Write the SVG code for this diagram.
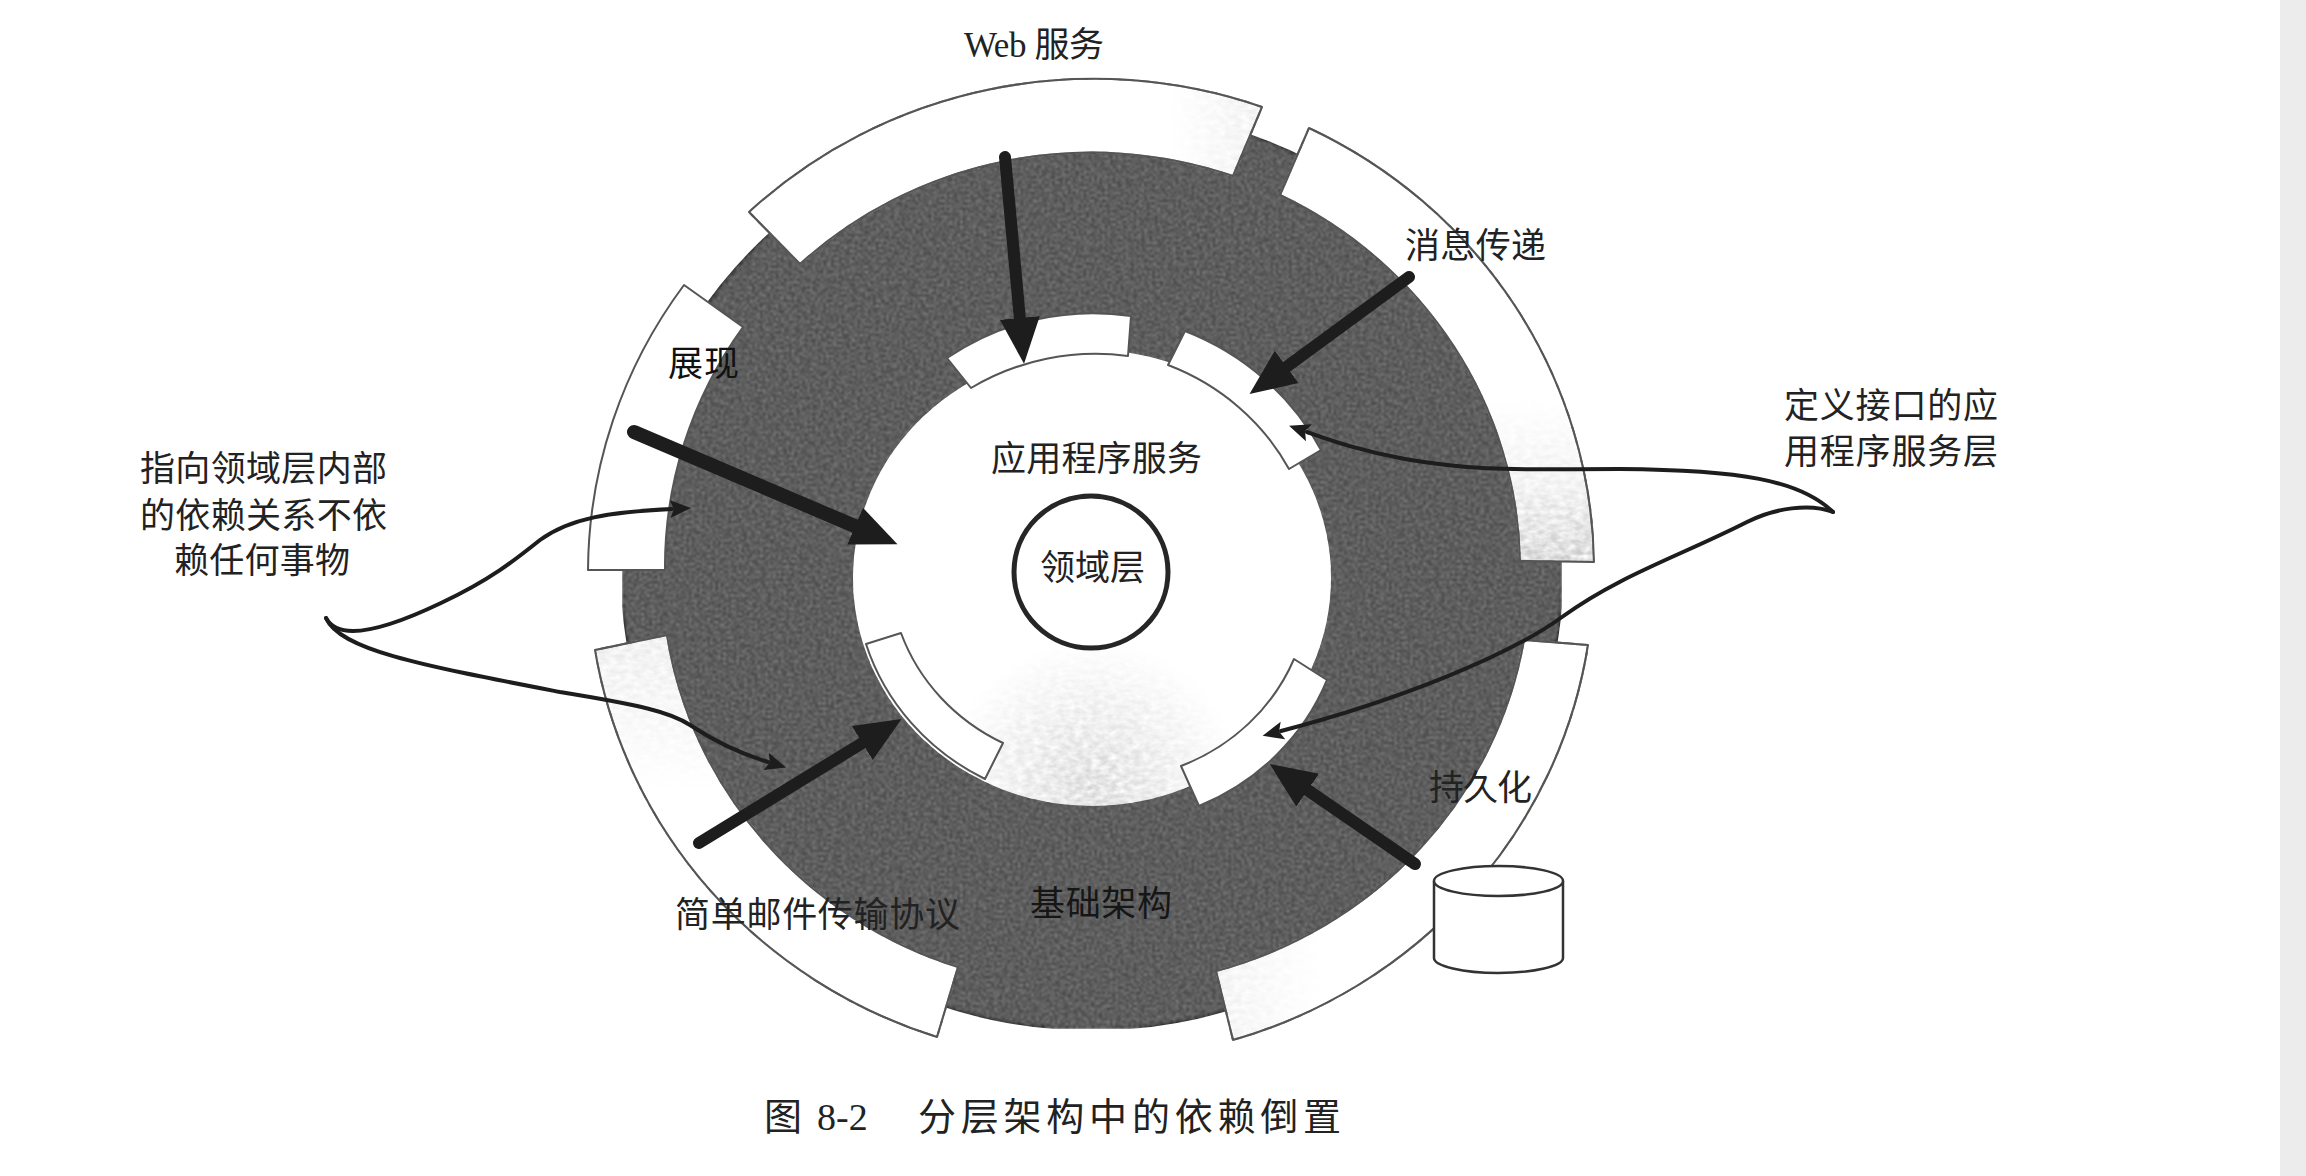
<svg xmlns="http://www.w3.org/2000/svg" width="2306" height="1176" viewBox="0 0 2306 1176">
<style>
text{font-family:"Liberation Serif","Noto Sans CJK SC",serif;font-size:35px;fill:#222}
.seg{fill:#fff;stroke:#555;stroke-width:2;stroke-linejoin:round}
.thick{fill:none;stroke:#1d1d1d;stroke-linecap:round}
.thin{fill:none;stroke:#1d1d1d;stroke-width:4;stroke-linecap:round}
</style>
<defs>
<filter id="grain" x="0" y="0" width="100%" height="100%" color-interpolation-filters="sRGB">
<feTurbulence type="fractalNoise" baseFrequency="0.38" numOctaves="2" seed="4" result="n"/>
<feColorMatrix in="n" type="matrix" values="0 0 0.75 0 -0.23 0 0 0.75 0 -0.23 0 0 0.75 0 -0.23 0 0 0 0 1" result="g"/>
<feBlend in="SourceGraphic" in2="g" mode="screen" result="b"/>
<feGaussianBlur in="b" stdDeviation="0.8" result="s"/>
<feComposite in="s" in2="SourceAlpha" operator="in"/>
</filter>
<filter id="mottle" x="0" y="0" width="100%" height="100%" color-interpolation-filters="sRGB">
<feTurbulence type="fractalNoise" baseFrequency="0.12 0.2" numOctaves="2" seed="9" result="n"/>
<feColorMatrix in="n" type="matrix" values="0 0 1.6 0 -0.4 0 0 1.6 0 -0.4 0 0 1.6 0 -0.4 0 0 0 0 1" result="g"/>
<feBlend in="SourceGraphic" in2="g" mode="screen" result="b"/>
<feComposite in="b" in2="SourceAlpha" operator="in"/>
</filter>
<radialGradient id="coreShade" gradientUnits="userSpaceOnUse" cx="1092" cy="790" r="150">
<stop offset="0" stop-color="#d2d2d2"/><stop offset="0.65" stop-color="#efefef"/><stop offset="1" stop-color="#fff"/>
</radialGradient>
<linearGradient id="msgShade" gradientUnits="userSpaceOnUse" x1="0" y1="400" x2="0" y2="562">
<stop offset="0" stop-color="#fff"/><stop offset="0.5" stop-color="#eee"/><stop offset="1" stop-color="#c8c8c8"/>
</linearGradient>
<linearGradient id="webShade" gradientUnits="userSpaceOnUse" x1="1170" y1="0" x2="1262" y2="0">
<stop offset="0" stop-color="#fff"/><stop offset="1" stop-color="#ececec"/>
</linearGradient>
<linearGradient id="smtpShade" gradientUnits="userSpaceOnUse" x1="0" y1="640" x2="0" y2="790">
<stop offset="0" stop-color="#e9e9e9"/><stop offset="1" stop-color="#fff"/>
</linearGradient>
<linearGradient id="persistShade" gradientUnits="userSpaceOnUse" x1="1225" y1="0" x2="1320" y2="0">
<stop offset="0" stop-color="#f0f0f0"/><stop offset="1" stop-color="#fff"/>
</linearGradient>
<marker id="headBig" markerUnits="userSpaceOnUse" markerWidth="48" markerHeight="44" refX="2" refY="22" orient="auto" viewBox="0 0 48 44">
<path d="M0 2L46 22L0 42Z" fill="#1d1d1d"/>
</marker>
<marker id="headSmall" markerUnits="userSpaceOnUse" markerWidth="22" markerHeight="20" refX="2" refY="10" orient="auto" viewBox="0 0 22 20">
<path d="M0 1L21 10L0 19L4 10Z" fill="#1d1d1d"/>
</marker>
</defs>
<rect width="2306" height="1176" fill="#fff"/>
<rect id="page-edge" x="2280" y="0" width="26" height="1176" fill="#ececec"/>

<g id="infrastructure">
<ellipse cx="1092" cy="569" rx="470" ry="460" fill="#424242" stroke="#2a2a2a" stroke-width="3" filter="url(#grain)"/>
<text x="1030" y="916" textLength="142" style="fill:#161616">基础架构</text>
</g>
<g id="application-services">
<ellipse cx="1092" cy="578" rx="239" ry="228" fill="#fff"/>
<ellipse cx="1092" cy="578" rx="239" ry="228" fill="url(#coreShade)" filter="url(#mottle)"/>
<text x="991" y="471" textLength="211">应用程序服务</text>
</g>
<g id="domain-layer">
<ellipse cx="1091" cy="572" rx="77" ry="76" fill="#fff" stroke="#262626" stroke-width="5"/>
<text x="1040" y="580" textLength="105">领域层</text>
</g>

<g id="web-services">
<path class="seg" style="fill:url(#webShade)" filter="url(#mottle)" d="M749 212A503 490 0 0 1 1262 107L1233 176A428 416 0 0 0 800 264Z"/>
<path class="seg" style="fill:none" d="M749 212A503 490 0 0 1 1262 107L1233 176A428 416 0 0 0 800 264Z"/>
<text x="964" y="57" textLength="140">Web 服务</text>
</g>
<g id="messaging">
<path class="seg" style="fill:url(#msgShade)" filter="url(#mottle)" d="M1309 128A503 490 0 0 1 1594 562L1520 561A428 416 0 0 0 1280 195Z"/>
<path class="seg" style="fill:none" d="M1309 128A503 490 0 0 1 1594 562L1520 561A428 416 0 0 0 1280 195Z"/>
</g>
<g id="presentation">
<path class="seg" d="M588 570A503 490 0 0 1 684 285L743 327A428 416 0 0 0 665 570Z"/>
<text x="668" y="376" textLength="71" style="fill:#111">展现</text>
</g>
<g id="persistence">
<path class="seg" style="fill:url(#persistShade)" filter="url(#mottle)" d="M1588 645A503 490 0 0 1 1233 1040L1216 971A428 416 0 0 0 1524 640Z"/>
<path class="seg" style="fill:none" d="M1588 645A503 490 0 0 1 1233 1040L1216 971A428 416 0 0 0 1524 640Z"/>
</g>
<g id="smtp">
<path class="seg" style="fill:url(#smtpShade)" filter="url(#mottle)" d="M937 1037A503 490 0 0 1 595 650L667 635A428 416 0 0 0 958 967Z"/>
<path class="seg" style="fill:none" d="M937 1037A503 490 0 0 1 595 650L667 635A428 416 0 0 0 958 967Z"/>
</g>

<g id="app-port-web"><path class="seg" d="M947 358A260 260 0 0 1 1131 316L1128 356A235 225 0 0 0 971 388Z"/></g>
<g id="app-port-messaging"><path class="seg" d="M1185 331A265 255 0 0 1 1321 450L1289 469A235 225 0 0 0 1168 365Z"/></g>
<g id="app-port-smtp"><path class="seg" d="M985 779A239 228 0 0 1 866 644L901 633A205 195 0 0 0 1003 743Z"/></g>
<g id="app-port-persistence"><path class="seg" d="M1294 659L1327 680A239 228 0 0 1 1199 806L1181 766A205 195 0 0 0 1294 659Z"/></g>

<g id="database">
<path d="M1434 881V958C1434 966 1463 973 1498 973C1534 973 1563 966 1563 958V881" fill="#fff" stroke="#333" stroke-width="2.5"/>
<ellipse cx="1498.500" cy="881" rx="64.500" ry="15" fill="#fff" stroke="#333" stroke-width="2.500"/>
</g>

<g id="connectors">
<path class="thick" stroke-width="12" marker-end="url(#headBig)" d="M1005 157L1020 320"/>
<path class="thick" stroke-width="12" marker-end="url(#headBig)" d="M1409 277L1285 368"/>
<path class="thick" stroke-width="14" marker-end="url(#headBig)" d="M634 432L857 527"/>
<path class="thick" stroke-width="12" marker-end="url(#headBig)" d="M699 843L864 742"/>
<path class="thick" stroke-width="12" marker-end="url(#headBig)" d="M1415 864L1306 789"/>
<path class="thin" marker-end="url(#headSmall)" d="M1833 512C1800 480 1740 470 1620 469C1520 469 1480 472 1405 459C1360 451 1330 440 1307 432"/>
<path class="thin" marker-end="url(#headSmall)" d="M1833 512C1810 503 1775 508 1747 522C1680 556 1620 575 1562 617C1510 655 1400 700 1281 731"/>
<path class="thin" marker-end="url(#headSmall)" d="M326 618C340 645 395 625 441 603C490 580 515 560 540 540C570 518 610 512 672 509"/>
<path class="thin" marker-end="url(#headSmall)" d="M326 618C340 650 420 665 560 692C640 705 670 712 690 725C720 745 745 755 768 762"/>
</g>

<g id="labels">
<text x="1405" y="258" textLength="141">消息传递</text>
<text x="1429" y="800" textLength="103">持久化</text>
<text x="675" y="927" textLength="285">简单邮件传输协议</text>
<text x="1784" y="418" textLength="214">定义接口的应</text>
<text x="1784" y="464" textLength="214">用程序服务层</text>
<text x="140" y="481" textLength="247">指向领域层内部</text>
<text x="140" y="528" textLength="247">的依赖关系不依</text>
<text x="174" y="573" textLength="176">赖任何事物</text>
<text id="caption" y="1130" style="font-size:38px"><tspan x="764">图</tspan><tspan x="817">8-2</tspan><tspan x="918" textLength="423">分层架构中的依赖倒置</tspan></text>
</g>
</svg>
